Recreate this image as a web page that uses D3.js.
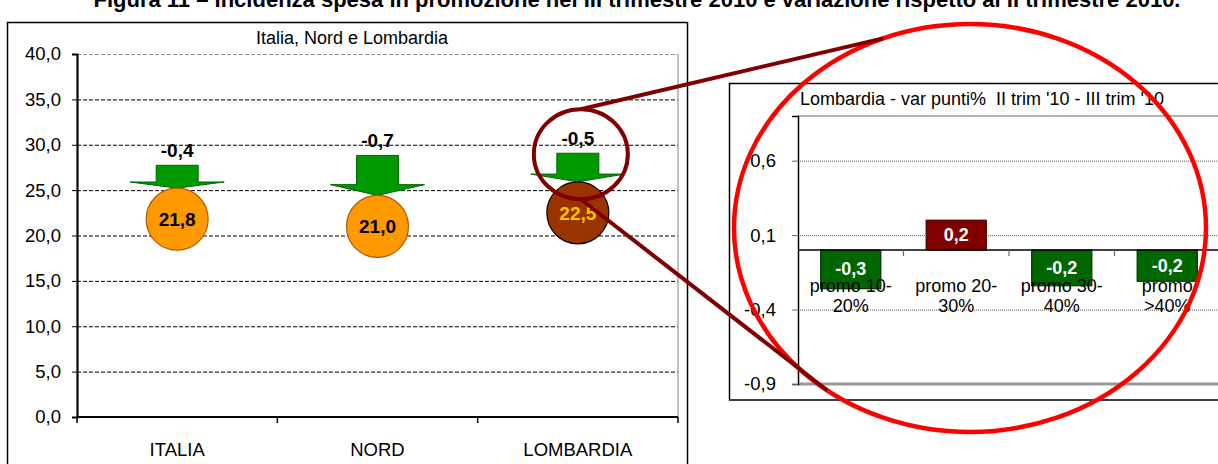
<!DOCTYPE html>
<html>
<head>
<meta charset="utf-8">
<script src="https://cdn.jsdelivr.net/npm/d3@7"></script>
<style>
  body { margin: 0; background: #fff; }
  text { font-family: "Liberation Sans", Arial, sans-serif; }
</style>
</head>
<body>
<script>
// left chart: incidenza spesa in promozione (III trim 2010)
const regions = ["ITALIA", "NORD", "LOMBARDIA"];
const incidenza = [21.8, 21.0, 22.5];
const variazione = [-0.4, -0.7, -0.5];
const leftTicks = [0, 5, 10, 15, 20, 25, 30, 35, 40];

// right chart: Lombardia, var punti% II trim '10 - III trim '10
const promoCats = ["promo 10-20%", "promo 20-30%", "promo 30-40%", "promo >40%"];
const promoLines = [["promo 10-", "20%"], ["promo 20-", "30%"], ["promo 30-", "40%"], ["promo", ">40%"]];
const promoVar = [-0.26, 0.2, -0.24, -0.21];
const rightTicks = [-0.9, -0.4, 0.1, 0.6];

const width = 1218;
const height = 464;

const it = d3.formatLocale({ decimal: ",", thousands: ".", grouping: [3], currency: ["", "€"], minus: "-" });
const fmt1 = it.format(".1f");

let svg = d3.select("body")
  .append("svg")
  .attr("width", width)
  .attr("height", height);

svg.append("text")
  .attr("x", 637)
  .attr("y", 7)
  .attr("text-anchor", "middle")
  .style("font-size", "22px")
  .style("font-weight", "bold")
  .text("Figura 11 – Incidenza spesa in promozione nel III trimestre 2010 e variazione rispetto al II trimestre 2010.");

// ---------- left chart ----------
svg.append("rect")
  .attr("x", 7.5).attr("y", 22.5)
  .attr("width", 680).attr("height", 470)
  .attr("fill", "none")
  .attr("stroke", "#000")
  .attr("stroke-width", 1.5);

svg.append("text")
  .attr("x", 352)
  .attr("y", 44)
  .attr("text-anchor", "middle")
  .style("font-size", "18px")
  .text("Italia, Nord e Lombardia");

let yLeft = d3.scaleLinear().domain([0, 40]).range([417, 54]);
let xLeft = d3.scaleBand().domain(regions).range([77, 678]);

let left = svg.append("g");

left.selectAll("line.grid")
  .data(leftTicks.filter(d => d > 0))
  .enter()
  .append("line")
    .attr("class", "grid")
    .attr("x1", 77).attr("x2", 678)
    .attr("y1", d => yLeft(d) + 0.5).attr("y2", d => yLeft(d) + 0.5)
    .attr("stroke", d => d === 40 ? "#999" : "#000")
    .attr("stroke-width", 1)
    .attr("stroke-dasharray", "4,2");

left.append("line")
  .attr("x1", 678).attr("x2", 678)
  .attr("y1", 54).attr("y2", 417)
  .attr("stroke", "#aaa")
  .attr("stroke-width", 1.5);

let yAxisLeft = d3.axisLeft(yLeft)
  .tickValues(leftTicks)
  .tickSize(5)
  .tickPadding(11)
  .tickFormat(fmt1);

left.append("g")
  .attr("transform", "translate(77,0)")
  .call(yAxisLeft)
  .call(g => g.select(".domain").attr("stroke-width", 2.2))
  .call(g => g.selectAll("text").style("font-size", "18.5px").attr("fill", "#000"));

// x axis: line with ticks between the categories
left.append("line")
  .attr("x1", 77).attr("x2", 678)
  .attr("y1", 417).attr("y2", 417)
  .attr("stroke", "#000")
  .attr("stroke-width", 2.2);

left.selectAll("line.xtick")
  .data(regions.concat(["end"]))
  .enter()
  .append("line")
    .attr("class", "xtick")
    .attr("x1", (d, i) => i < regions.length ? xLeft(d) : xLeft.range()[1])
    .attr("x2", (d, i) => i < regions.length ? xLeft(d) : xLeft.range()[1])
    .attr("y1", 417).attr("y2", 423)
    .attr("stroke", "#000")
    .attr("stroke-width", 1.5);

left.selectAll("text.xlab")
  .data(regions)
  .enter()
  .append("text")
    .attr("class", "xlab")
    .attr("x", d => xLeft(d) + xLeft.bandwidth() / 2)
    .attr("y", 456)
    .attr("text-anchor", "middle")
    .style("font-size", "18.5px")
    .text(d => d);

// arrows for the variation, tip touching the top of each circle
const radius = 31;
let arrowLen = d3.scaleLinear().domain([0, 0.7]).range([0, 40]);

function arrowPath(cx, tipY, len) {
  let head = len * 0.27;
  let top = tipY - len;
  let base = tipY - head;
  return `M${cx - 21},${top} L${cx + 21},${top} L${cx + 21},${base} L${cx + 47},${base} L${cx},${tipY} L${cx - 47},${base} L${cx - 21},${base} Z`;
}

let dots = left.selectAll("g.dot")
  .data(regions)
  .enter()
  .append("g")
    .attr("class", "dot");

dots.append("path")
  .attr("d", (d, i) => arrowPath(xLeft(d) + xLeft.bandwidth() / 2, yLeft(incidenza[i]) - radius, arrowLen(Math.abs(variazione[i]))))
  .attr("fill", "#009900")
  .attr("stroke", "#006600")
  .attr("stroke-width", 1);

dots.append("text")
  .attr("x", d => xLeft(d) + xLeft.bandwidth() / 2)
  .attr("y", (d, i) => yLeft(incidenza[i]) - radius - arrowLen(Math.abs(variazione[i])) - 8)
  .attr("text-anchor", "middle")
  .style("font-size", "19px")
  .style("font-weight", "bold")
  .text((d, i) => fmt1(variazione[i]));

dots.append("circle")
  .attr("cx", d => xLeft(d) + xLeft.bandwidth() / 2)
  .attr("cy", (d, i) => yLeft(incidenza[i]))
  .attr("r", radius)
  .attr("fill", d => d === "LOMBARDIA" ? "#993300" : "#ff9900")
  .attr("stroke", d => d === "LOMBARDIA" ? "#000" : "#b35900")
  .attr("stroke-width", 1.2);

dots.append("text")
  .attr("x", d => xLeft(d) + xLeft.bandwidth() / 2)
  .attr("y", (d, i) => yLeft(incidenza[i]) + 7)
  .attr("text-anchor", "middle")
  .attr("fill", d => d === "LOMBARDIA" ? "#ffc000" : "#000")
  .style("font-size", "19px")
  .style("font-weight", "bold")
  .text((d, i) => fmt1(incidenza[i]));

// ---------- right chart ----------
svg.append("rect")
  .attr("x", 729.5).attr("y", 83.5)
  .attr("width", 600).attr("height", 316.5)
  .attr("fill", "#fff")
  .attr("stroke", "#000")
  .attr("stroke-width", 1.5);

svg.append("text")
  .attr("x", 800)
  .attr("y", 105)
  .style("font-size", "18px")
  .style("white-space", "pre")
  .text("Lombardia - var punti%  II trim '10 - III trim '10");

let yRight = d3.scaleLinear().domain([-0.9, 0.9]).range([384, 116]);
let xRight = d3.scaleBand().domain(promoCats).range([798, 1220]).paddingInner(0.43).paddingOuter(0.215);

let right = svg.append("g");

// plot area border
right.append("line")
  .attr("x1", 798).attr("x2", 1220)
  .attr("y1", 116).attr("y2", 116)
  .attr("stroke", "#999").attr("stroke-width", 1.5);
right.append("line")
  .attr("x1", 798).attr("x2", 1220)
  .attr("y1", 384).attr("y2", 384)
  .attr("stroke", "#999").attr("stroke-width", 3);

right.selectAll("line.grid")
  .data(rightTicks.filter(d => d > -0.9))
  .enter()
  .append("line")
    .attr("class", "grid")
    .attr("x1", 798).attr("x2", 1220)
    .attr("y1", d => yRight(d) + 0.5).attr("y2", d => yRight(d) + 0.5)
    .attr("stroke", "#555")
    .attr("stroke-width", 1)
    .attr("stroke-dasharray", "1,1");

let yAxisRight = d3.axisLeft(yRight)
  .tickValues(rightTicks)
  .tickSize(6)
  .tickPadding(16)
  .tickFormat(fmt1);

right.append("g")
  .attr("transform", "translate(798,0)")
  .call(yAxisRight)
  .call(g => g.select(".domain").attr("stroke-width", 1.5))
  .call(g => g.selectAll(".tick line").attr("stroke", "#666"))
  .call(g => g.selectAll("text").style("font-size", "18.5px").attr("fill", "#000"));

right.selectAll("rect.bar")
  .data(promoCats)
  .enter()
  .append("rect")
    .attr("class", "bar")
    .attr("x", d => xRight(d))
    .attr("y", (d, i) => yRight(Math.max(0, promoVar[i])))
    .attr("width", xRight.bandwidth())
    .attr("height", (d, i) => Math.abs(yRight(promoVar[i]) - yRight(0)))
    .attr("fill", (d, i) => promoVar[i] < 0 ? "#006600" : "#800000")
    .attr("stroke", (d, i) => promoVar[i] < 0 ? "#003300" : "#4d0000")
    .attr("stroke-width", 1.2);

// zero line with ticks between categories
right.append("line")
  .attr("x1", 798).attr("x2", 1220)
  .attr("y1", yRight(0)).attr("y2", yRight(0))
  .attr("stroke", "#000").attr("stroke-width", 1.5);

right.selectAll("line.xtick")
  .data(promoCats.slice(1))
  .enter()
  .append("line")
    .attr("class", "xtick")
    .attr("x1", d => xRight(d) - xRight.step() * 0.215)
    .attr("x2", d => xRight(d) - xRight.step() * 0.215)
    .attr("y1", yRight(0)).attr("y2", yRight(0) + 6)
    .attr("stroke", "#666").attr("stroke-width", 1.2);

right.selectAll("text.val")
  .data(promoCats)
  .enter()
  .append("text")
    .attr("class", "val")
    .attr("x", d => xRight(d) + xRight.bandwidth() / 2)
    .attr("y", (d, i) => (yRight(promoVar[i]) + yRight(0)) / 2 + 6)
    .attr("text-anchor", "middle")
    .attr("fill", "#fff")
    .style("font-size", "18px")
    .style("font-weight", "bold")
    .text((d, i) => fmt1(promoVar[i]));

let catLabels = right.selectAll("text.cat")
  .data(promoCats)
  .enter()
  .append("text")
    .attr("class", "cat")
    .attr("text-anchor", "middle")
    .style("font-size", "18px");

catLabels.selectAll("tspan")
  .data((d, i) => promoLines[i].map(t => ({ t: t, x: xRight(d) + xRight.bandwidth() / 2 })))
  .enter()
  .append("tspan")
    .attr("x", d => d.x)
    .attr("y", (d, j) => 292 + j * 20)
    .text(d => d.t);

// ---------- zoom annotation ----------
const ell = { cx: 970, cy: 228, rx: 236, ry: 204 };
let lomb = xLeft("LOMBARDIA") + xLeft.bandwidth() / 2;
let ring = { cx: lomb + 3, cy: yLeft(incidenza[2]) - radius - arrowLen(Math.abs(variazione[2])) + 1, rx: 47, ry: 45 };

function ellY(x, sign) {
  let dx = (x - ell.cx) / ell.rx;
  return ell.cy + sign * ell.ry * Math.sqrt(1 - dx * dx);
}

svg.append("ellipse")
  .attr("cx", ell.cx).attr("cy", ell.cy)
  .attr("rx", ell.rx).attr("ry", ell.ry)
  .attr("fill", "none")
  .attr("stroke", "#ff0000")
  .attr("stroke-width", 4.5);

svg.append("line")
  .attr("x1", ring.cx).attr("y1", ring.cy - ring.ry)
  .attr("x2", 883).attr("y2", ellY(883, -1))
  .attr("stroke", "#800000").attr("stroke-width", 4);

svg.append("line")
  .attr("x1", ring.cx).attr("y1", ring.cy + ring.ry)
  .attr("x2", 827).attr("y2", ellY(827, 1))
  .attr("stroke", "#800000").attr("stroke-width", 4);

svg.append("ellipse")
  .attr("cx", ring.cx).attr("cy", ring.cy)
  .attr("rx", ring.rx).attr("ry", ring.ry)
  .attr("fill", "none")
  .attr("stroke", "#800000")
  .attr("stroke-width", 4);
</script>
</body>
</html>
